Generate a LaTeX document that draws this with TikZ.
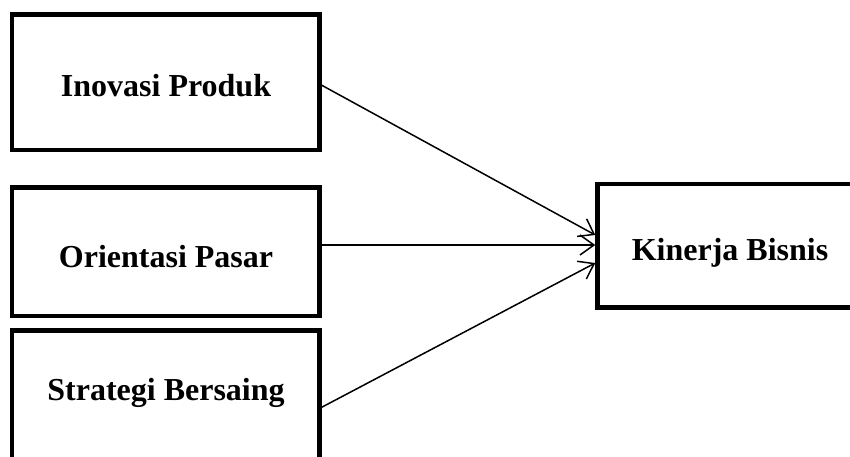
\documentclass[tikz,border=0pt]{standalone}
\usepackage{fontspec}
\setmainfont{Liberation Serif}
\usetikzlibrary{arrows.meta,calc}
\begin{document}
\begin{tikzpicture}[x=1pt,y=-1pt,
  varbox/.style={draw=black,line width=4.5pt,rectangle,inner sep=0pt,fill=white},
  label/.style={font=\fontsize{32}{38}\selectfont\bfseries,inner sep=0pt,anchor=base},
  link/.style={line width=1.5pt,-{Straight Barb[length=14pt,width=20pt]}}]
\clip (0,0) rectangle (850,457);
\fill[white] (0,0) rectangle (850,457);
\node[varbox,minimum width=307.5pt,minimum height=135.5pt] (ip) at (165.75,82.25) {};
\node[varbox,minimum width=307.5pt,minimum height=128.5pt] (op) at (165.75,251.75) {};
\node[varbox,minimum width=307.5pt,minimum height=153.5pt] (bs) at (165.75,407.25) {};
\node[varbox,minimum width=264.5pt,minimum height=123.5pt] (kb) at (729.75,245.75) {};
\node[label] (tip) at (166,97) {Inovasi Produk};
\node[label] (top) at (166,267) {Orientasi Pasar};
\node[label] (tbs) at (166,400) {Strategi Bersaing};
\node[label] (tkb) at (730,260) {Kinerja Bisnis};
\coordinate (s1) at ($(ip.east)+(0,3)$);
\coordinate (s2) at ($(op.east)+(0,-6.75)$);
\coordinate (s3) at (bs.east);
\coordinate (e1) at ($(kb.west)+(0,-10.75)$);
\coordinate (e2) at ($(kb.west)+(0,-0.75)$);
\coordinate (e3) at ($(kb.west)+(0,17.25)$);
\draw[link] (s1) -- (e1);
\draw[link] (s2) -- (e2);
\draw[link] (s3) -- (e3);
\end{tikzpicture}
\end{document}
